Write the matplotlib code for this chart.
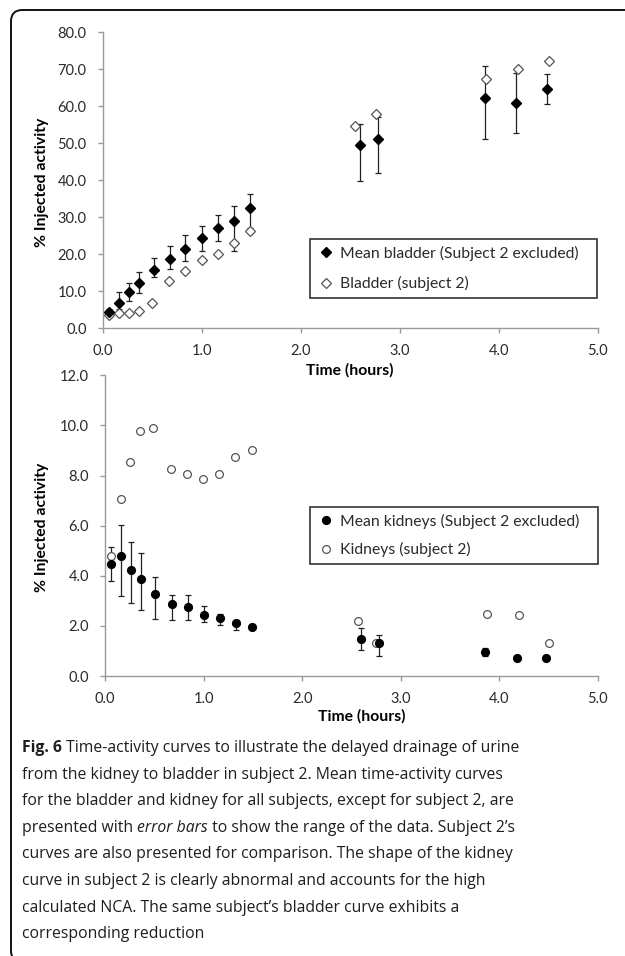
import matplotlib
matplotlib.use("Agg")
import matplotlib.pyplot as plt
from matplotlib.patches import FancyBboxPatch

W, H = 625, 956

# ---------------- data ----------------
# Bladder, mean (subject 2 excluded)
t_bladder_mean = [0.067, 0.167, 0.267, 0.367, 0.517, 0.677, 0.836, 1.0, 1.164, 1.328, 1.492,
                  2.594, 2.777, 3.866, 4.178, 4.486]
bladder_mean = [4.3, 6.8, 9.8, 12.2, 15.8, 18.6, 21.3, 24.4, 27.2, 28.9, 32.5,
                49.6, 51.1, 62.1, 60.8, 64.6]
bladder_hi = [5.2, 9.8, 12.3, 15.2, 18.9, 22.3, 25.2, 27.6, 30.5, 32.9, 36.3,
              55.1, 57.0, 70.7, 68.9, 68.6]
bladder_lo = [3.4, 5.3, 7.5, 9.6, 13.8, 15.9, 18.1, 20.8, 23.7, 20.9, 27.0,
              39.8, 41.8, 51.2, 52.7, 60.6]
# Bladder, subject 2
t_bladder_s2 = [0.067, 0.164, 0.264, 0.365, 0.495, 0.666, 0.836, 1.0, 1.164, 1.328, 1.492,
                2.553, 2.756, 3.873, 4.198, 4.506]
bladder_s2 = [3.5, 4.05, 4.2, 4.7, 6.9, 12.8, 15.5, 18.5, 20.1, 23.0, 26.3,
              54.6, 57.9, 67.3, 69.9, 72.3]

# Kidneys, mean (subject 2 excluded)
t_kidney_mean = [0.061, 0.162, 0.264, 0.362, 0.508, 0.677, 0.839, 1.005, 1.168, 1.333, 1.492,
                 2.597, 2.78, 3.86, 4.18, 4.48]
kidney_mean = [4.48, 4.78, 4.22, 3.89, 3.27, 2.87, 2.74, 2.44, 2.33, 2.10, 1.96,
               1.47, 1.30, 0.97, 0.73, 0.70]
kidney_hi = [5.13, 6.03, 5.34, 4.91, 3.96, 3.25, 3.25, 2.79, 2.47, 2.24, 2.00,
             1.90, 1.63, 1.13, 0.78, 0.74]
kidney_lo = [3.78, 3.21, 2.90, 2.63, 2.27, 2.23, 2.23, 2.14, 2.04, 1.82, 1.92,
             1.04, 0.80, 0.80, 0.68, 0.66]
# Kidneys, subject 2
t_kidney_s2 = [0.061, 0.162, 0.254, 0.355, 0.491, 0.667, 0.832, 0.998, 1.161, 1.323, 1.489,
               2.57, 2.75, 3.88, 4.20, 4.51]
kidney_s2 = [4.79, 7.05, 8.54, 9.76, 9.89, 8.27, 8.07, 7.85, 8.05, 8.74, 9.03,
             2.20, 1.33, 2.48, 2.42, 1.31]

top_yticks = [0, 10, 20, 30, 40, 50, 60, 70, 80]
bot_yticks = [0, 2, 4, 6, 8, 10, 12]
xticks = [0, 1, 2, 3, 4, 5]

leg_top = ["Mean bladder (Subject 2 excluded)", "Bladder (subject 2)"]
leg_bot = ["Mean kidneys (Subject 2 excluded)", "Kidneys (subject 2)"]
xlabel = "Time (hours)"
ylabel = "% Injected activity"

caption_lines = [
    [("Fig. 6", "bold"), (" Time-activity curves to illustrate the delayed drainage of urine", "normal")],
    [("from the kidney to bladder in subject 2. Mean time-activity curves", "normal")],
    [("for the bladder and kidney for all subjects, except for subject 2, are", "normal")],
    [("presented with ", "normal"), ("error bars", "italic"), (" to show the range of the data. Subject 2\u2019s", "normal")],
    [("curves are also presented for comparison. The shape of the kidney", "normal")],
    [("curve in subject 2 is clearly abnormal and accounts for the high", "normal")],
    [("calculated NCA. The same subject\u2019s bladder curve exhibits a", "normal")],
    [("corresponding reduction", "normal")],
]

# ---------------- styling ----------------
CF = ["Lato", "DejaVu Sans"]
plt.rcParams["font.family"] = CF
TICK_FS = 10.5
LAB_FS = 11.3
LEG_FS = 11.3
SPINE = "#9a9a9a"
TXT = "#2a2a2a"

fig = plt.figure(figsize=(W / 100, H / 100), dpi=100)

# outer rounded frame
frame = FancyBboxPatch((11 / W, 1 - 962 / H), (650 - 11) / W, (962 - 10) / H,
                       boxstyle="round,pad=0,rounding_size=0.018",
                       transform=fig.transFigure, fill=False, edgecolor="#111111",
                       linewidth=1.4, mutation_aspect=W / H)
fig.patches.append(frame)


def style_axes(ax, ymax, yticks):
    ax.set_xlim(0, 5)
    ax.set_ylim(0, ymax)
    ax.set_xticks(xticks)
    ax.set_yticks(yticks)
    ax.set_xticklabels([f"{v:.1f}" for v in xticks])
    ax.set_yticklabels([f"{v:.1f}" for v in yticks])
    for s in ["top", "right"]:
        ax.spines[s].set_visible(False)
    for s in ["left", "bottom"]:
        ax.spines[s].set_color(SPINE)
        ax.spines[s].set_linewidth(1.0)
    ax.tick_params(axis="both", direction="out", length=3.5, width=1.0, color=SPINE,
                   labelsize=TICK_FS, labelcolor=TXT)
    ax.tick_params(axis="x", pad=8)
    ax.tick_params(axis="y", pad=8)


def legend_at(ax, handles, labels, x0, y_top, x1, y_bot, spacing):
    leg = ax.legend(handles, labels, loc="center left",
                    bbox_to_anchor=(x0 / W, 1 - y_bot / H, (x1 - x0) / W, (y_bot - y_top) / H),
                    bbox_transform=fig.transFigure, mode="expand", borderaxespad=0,
                    fontsize=LEG_FS, frameon=True, fancybox=False, edgecolor="black",
                    handlelength=1.2, handletextpad=0.25, labelspacing=spacing,
                    borderpad=0.45, labelcolor=TXT)
    leg.get_frame().set_linewidth(1.2)
    return leg


# ---------------- top: bladder ----------------
ax1 = fig.add_axes([102.7 / W, 1 - 328.3 / H, 495 / W, 296.3 / H])
style_axes(ax1, 80, top_yticks)
h_s2b, = ax1.plot(t_bladder_s2, bladder_s2, linestyle="none", marker="D", ms=5.2,
                  mfc="white", mec="#555555", mew=0.9, zorder=3)
yerr_b = [[m - lo for m, lo in zip(bladder_mean, bladder_lo)],
          [hi - m for m, hi in zip(bladder_mean, bladder_hi)]]
ax1.errorbar(t_bladder_mean, bladder_mean, yerr=yerr_b, fmt="none", ecolor="#222222",
             elinewidth=0.9, capsize=2.2, capthick=0.9, zorder=2)
h_mb, = ax1.plot(t_bladder_mean, bladder_mean, linestyle="none", marker="D", ms=5.2,
                 mfc="black", mec="black", zorder=4)
legend_at(ax1, [h_mb, h_s2b], leg_top, 310, 237, 597, 300, 1.0)

# ---------------- bottom: kidneys ----------------
ax2 = fig.add_axes([105 / W, 1 - 676 / H, 492.7 / W, 300.7 / H])
style_axes(ax2, 12, bot_yticks)
h_s2k, = ax2.plot(t_kidney_s2, kidney_s2, linestyle="none", marker="o", ms=5.6,
                  mfc="white", mec="#555555", mew=0.9, zorder=3)
yerr_k = [[m - lo for m, lo in zip(kidney_mean, kidney_lo)],
          [hi - m for m, hi in zip(kidney_mean, kidney_hi)]]
ax2.errorbar(t_kidney_mean, kidney_mean, yerr=yerr_k, fmt="none", ecolor="#222222",
             elinewidth=0.9, capsize=2.2, capthick=0.9, zorder=2)
h_mk, = ax2.plot(t_kidney_mean, kidney_mean, linestyle="none", marker="o", ms=5.6,
                 mfc="black", mec="black", zorder=4)
legend_at(ax2, [h_mk, h_s2k], leg_bot, 310, 506, 598, 565, 0.85)

# axis titles
fig.text(350 / W, 1 - 370 / H, xlabel, ha="center", va="center", fontsize=LAB_FS,
         fontweight="bold", color="black")
fig.text(362 / W, 1 - 716 / H, xlabel, ha="center", va="center", fontsize=LAB_FS,
         fontweight="bold", color="black")
fig.text(42 / W, 1 - 182 / H, ylabel, ha="center", va="center", rotation=90,
         fontsize=LAB_FS, fontweight="bold", color="black")
fig.text(42 / W, 1 - 527 / H, ylabel, ha="center", va="center", rotation=90,
         fontsize=LAB_FS, fontweight="bold", color="black")

# ---------------- caption ----------------
CAP_FS = 11.3
CAP_FAM = ["Open Sans", "DejaVu Sans"]
renderer = fig.canvas.get_renderer()
y0 = 748
for i, segs in enumerate(caption_lines):
    y = y0 + i * 26.6
    x = 22
    for txt, sty in segs:
        kw = dict(fontsize=CAP_FS, family=CAP_FAM, color="#1e1e1e", ha="left", va="center")
        if sty == "bold":
            kw["fontweight"] = "bold"
        elif sty == "italic":
            kw["style"] = "italic"
        t = fig.text(x / W, 1 - y / H, txt, **kw)
        bb = t.get_window_extent(renderer)
        x = bb.x1

fig.savefig("out.png", dpi=100)
